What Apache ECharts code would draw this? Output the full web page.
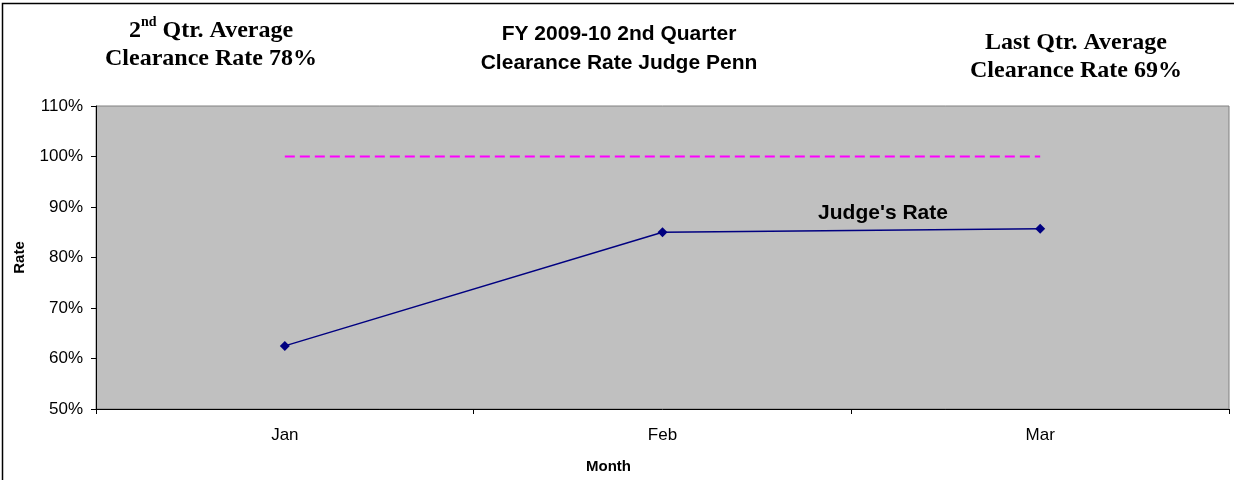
<!DOCTYPE html>
<html>
<head>
<meta charset="utf-8">
<script src="https://cdn.jsdelivr.net/npm/echarts@6/dist/echarts.min.js"></script>
<style>
  html, body { margin: 0; padding: 0; background: #fff; }
</style>
</head>
<body>
<div id="main" style="width: 1234px;height:480px;"></div>
<script>
// data
var months = ['Jan', 'Feb', 'Mar']
var judgeRate = [62.5, 85.0, 85.7]
var targetRate = [100, 100, 100]
var yTicks = { min: 50, max: 110, step: 10 }

var myChart = echarts.init(document.getElementById('main'))

var option = {
  backgroundColor: '#fff',
  animation: false,
  grid: {
    left: 96,
    right: 5,
    top: 106,
    bottom: 71,
    show: true,
    backgroundColor: '#C0C0C0',
    borderColor: '#808080',
    borderWidth: 1
  },
  graphic: [
    {
      // outer chart frame
      type: 'rect',
      shape: { x: 2.5, y: 3.5, width: 1240, height: 490 },
      style: { fill: 'none', stroke: '#000', lineWidth: 1.5 },
      silent: true
    },
    {
      type: 'text',
      x: 619,
      y: 20,
      style: {
        text: 'FY 2009-10 2nd Quarter\nClearance Rate Judge Penn',
        font: 'bold 21px "Liberation Sans", Arial, sans-serif',
        fill: '#000',
        align: 'center',
        lineHeight: 29
      }
    },
    {
      type: 'text',
      x: 211,
      y: 15,
      style: {
        text: '{a|2}{s|nd}{a| Qtr. Average}\n{a|Clearance Rate 78%}',
        align: 'center',
        fill: '#000',
        rich: {
          a: { font: 'bold 24px "Liberation Serif", "Times New Roman", serif', lineHeight: 28, verticalAlign: 'bottom' },
          s: { font: 'bold 14px "Liberation Serif", "Times New Roman", serif', lineHeight: 28, verticalAlign: 'top' }
        }
      }
    },
    {
      type: 'text',
      x: 1076,
      y: 29,
      style: {
        text: 'Last Qtr. Average\nClearance Rate 69%',
        align: 'center',
        fill: '#000',
        font: 'bold 24px "Liberation Serif", "Times New Roman", serif',
        lineHeight: 28
      }
    },
    {
      type: 'text',
      x: 883,
      y: 213,
      style: {
        text: "Judge's Rate",
        align: 'center',
        verticalAlign: 'middle',
        fill: '#000',
        font: 'bold 21px "Liberation Sans", Arial, sans-serif'
      }
    }
  ],
  xAxis: {
    type: 'category',
    data: months,
    boundaryGap: true,
    name: 'Month',
    nameLocation: 'middle',
    nameGap: 50,
    nameTextStyle: {
      fontFamily: '"Liberation Sans", Arial, sans-serif',
      fontWeight: 'bold',
      fontSize: 15,
      color: '#000',
      padding: [0, 108, 0, 0]
    },
    axisLine: { lineStyle: { color: '#000', width: 1 } },
    axisTick: { show: true, length: 5, inside: false, alignWithLabel: false, lineStyle: { color: '#000' } },
    axisLabel: {
      margin: 18,
      fontFamily: '"Liberation Sans", Arial, sans-serif',
      fontSize: 17,
      color: '#000'
    },
    splitLine: { show: false }
  },
  yAxis: {
    type: 'value',
    min: yTicks.min,
    max: yTicks.max,
    interval: yTicks.step,
    name: 'Rate',
    nameLocation: 'middle',
    nameRotate: 90,
    nameGap: 69,
    nameTextStyle: {
      fontFamily: '"Liberation Sans", Arial, sans-serif',
      fontWeight: 'bold',
      fontSize: 15,
      color: '#000'
    },
    axisLine: { show: true, lineStyle: { color: '#000', width: 1 } },
    axisTick: { show: true, length: 5, inside: false, lineStyle: { color: '#000' } },
    axisLabel: {
      formatter: '{value}%',
      margin: 13,
      fontFamily: '"Liberation Sans", Arial, sans-serif',
      fontSize: 17,
      color: '#000'
    },
    splitLine: { show: false }
  },
  series: [
    {
      name: 'Target',
      type: 'line',
      data: targetRate,
      symbol: 'none',
      lineStyle: { color: '#FF00FF', width: 2, type: [10, 5] },
      z: 2
    },
    {
      name: "Judge's Rate",
      type: 'line',
      data: judgeRate,
      symbol: 'diamond',
      symbolSize: 10,
      itemStyle: { color: '#000080' },
      lineStyle: { color: '#000080', width: 1.5 },
      z: 3
    }
  ]
}

myChart.setOption(option)
</script>
</body>
</html>
